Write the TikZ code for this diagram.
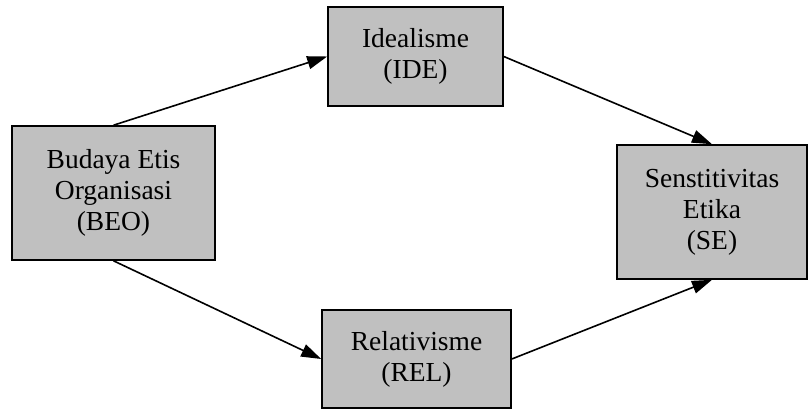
\documentclass[tikz,border=0pt]{standalone}
\usepackage{fontspec}
\setmainfont{Liberation Serif}
\usetikzlibrary{arrows.meta}
\tikzset{
    varbox/.style={draw, line width=1.6pt, fill=boxgray, align=center,
        inner sep=0pt, font=\fontsize{27.5}{31}\selectfont},
    link/.style={-{Triangle[length=20pt, width=13pt]}, line width=1.6pt}
}
\definecolor{boxgray}{HTML}{C0C0C0}
\begin{document}
\begin{tikzpicture}[x=1pt, y=-1pt]
        \useasboundingbox (0, 0) rectangle (809, 412);

        \node[varbox, minimum width=203pt, minimum height=134pt] (beo) at (113.5, 193) {Budaya Etis\\Organisasi\\(BEO)};
        \node[varbox, minimum width=175pt, minimum height=99pt] (ide) at (415.5, 56.5) {Idealisme\\(IDE)};
        \node[varbox, minimum width=190pt, minimum height=134pt] (se) at (712, 212) {Senstitivitas\\Etika\\(SE)};
        \node[varbox, minimum width=189pt, minimum height=98pt] (rel) at (416.5, 359) {Relativisme\\(REL)};

        \draw[link] (beo.north) -- (ide.west);
        \draw[link] (ide.east) -- (se.north);
        \draw[link] (beo.south) -- (rel.west);
        \draw[link] (rel.east) -- (se.south);
    \end{tikzpicture}
\end{document}
